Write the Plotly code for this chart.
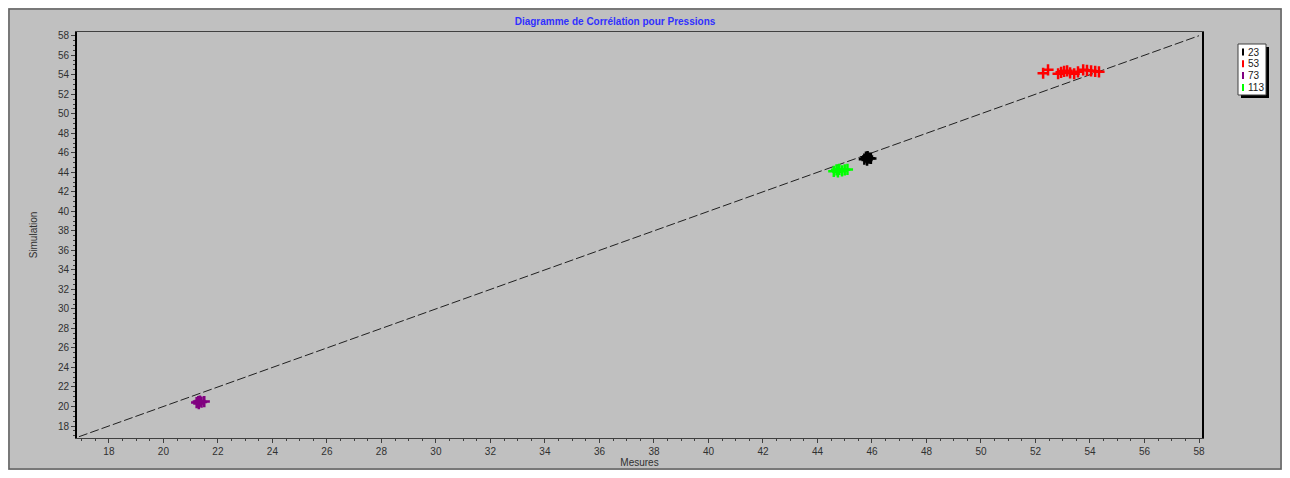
import plotly.graph_objects as go

# mesures / simulation par point de mesure
x_23 = [45.72, 45.78, 45.84, 45.9, 45.96, 45.82]
y_23 = [45.35, 45.55, 45.62, 45.45, 45.42, 45.25]

x_53 = [52.28, 52.46, 52.83, 52.94, 53.05, 53.16, 53.27, 53.42,
        53.56, 53.75, 53.89, 54.04, 54.19, 54.33]
y_53 = [54.15, 54.5, 54.1, 54.25, 54.35, 54.4, 54.2, 54.1,
        54.3, 54.5, 54.45, 54.4, 54.35, 54.3]

x_73 = [21.22, 21.28, 21.34, 21.4, 21.5, 21.3]
y_73 = [20.4, 20.5, 20.55, 20.45, 20.5, 20.3]

x_113 = [44.6, 44.7, 44.8, 44.9, 45.0, 45.1, 44.75]
y_113 = [44.1, 44.25, 44.3, 44.15, 44.25, 44.3, 44.05]

diag = [16.9, 58.0]

series = [
    ("23", x_23, y_23, "black"),
    ("53", x_53, y_53, "red"),
    ("73", x_73, y_73, "purple"),
    ("113", x_113, y_113, "lime"),
]

# taille de la figure (la page a une marge de 8px)
W, H = 1274, 462
ML, MR, MT, MB = 69, 80, 24, 32
PW, PH = W - ML - MR, H - MT - MB


def px(x):
    return (x - ML) / PW


def py(y):
    return (H - MB - y) / PH


fig = go.Figure()

fig.add_trace(go.Scatter(x=diag, y=diag, mode="lines", showlegend=False,
                         line=dict(color="#202020", width=1, dash="9px,3px"),
                         hoverinfo="skip"))

for name, xs, ys, col in series:
    fig.add_trace(go.Scatter(
        x=xs, y=ys, mode="markers", name=name, showlegend=False,
        marker=dict(symbol="cross-thin", size=8, color=col,
                    line=dict(color=col, width=2.5)),
    ))

axis_font = dict(family="Liberation Sans, Arial", size=10, color="#303030")

fig.update_xaxes(range=[16.83, 58.11], tick0=18, dtick=2, ticks="outside",
                 ticklen=4, tickcolor="#404040", showgrid=False, zeroline=False,
                 showline=True, linecolor="#404040", linewidth=1, mirror=True,
                 tickfont=axis_font, automargin=False,
                 minor=dict(dtick=0.5, ticks="outside", ticklen=2, tickcolor="#404040"),
                 title=dict(text="Mesures", font=axis_font, standoff=2))
fig.update_yaxes(range=[16.77, 58.38], tick0=18, dtick=2, ticks="outside",
                 ticklen=4, tickcolor="#404040", showgrid=False, zeroline=False,
                 showline=True, linecolor="black", linewidth=2, mirror=True,
                 tickfont=axis_font, automargin=False,
                 minor=dict(dtick=0.5, ticks="outside", ticklen=2, tickcolor="#404040"),
                 title=dict(text="Simulation", font=axis_font, standoff=18))

fig.update_layout(
    width=W, height=H,
    margin=dict(l=ML, r=MR, t=MT, b=MB, autoexpand=False),
    paper_bgcolor="#c0c0c0", plot_bgcolor="#c0c0c0",
    title=dict(text="<b>Diagramme de Corrélation pour Pressions</b>",
               x=607 / W, xanchor="center", y=1 - 13 / H, yanchor="middle",
               font=dict(family="Liberation Sans, Arial", size=10, color="#3030ff")),
    showlegend=False,
)

# cadre extérieur
fig.add_shape(type="rect", xref="paper", yref="paper",
              x0=px(1), x1=px(W - 1), y0=py(H - 1), y1=py(1),
              line=dict(color="#606060", width=1.5), layer="below")

# légende (boîte blanche avec ombre)
lx0, lx1, ly0, ly1 = 1230, 1258, 36, 87
fig.add_shape(type="rect", xref="paper", yref="paper",
              x0=px(lx0 + 3), x1=px(lx1 + 3), y0=py(ly1 + 3), y1=py(ly0 + 3),
              fillcolor="black", line=dict(width=0))
fig.add_shape(type="rect", xref="paper", yref="paper",
              x0=px(lx0), x1=px(lx1), y0=py(ly1), y1=py(ly0),
              fillcolor="white", line=dict(color="#404040", width=1))
for i, (name, xs, ys, col) in enumerate(series):
    yy = 44 + i * 11.8
    fig.add_shape(type="line", xref="paper", yref="paper",
                  x0=px(lx0 + 5), x1=px(lx0 + 5), y0=py(yy + 3.5), y1=py(yy - 3.5),
                  line=dict(color=col, width=2))
    fig.add_annotation(xref="paper", yref="paper", x=px(lx0 + 8), y=py(yy),
                       xanchor="left", yanchor="middle", showarrow=False,
                       text=name, font=dict(family="Liberation Sans, Arial",
                                            size=10, color="#202020"))

fig.write_html("out.html")
